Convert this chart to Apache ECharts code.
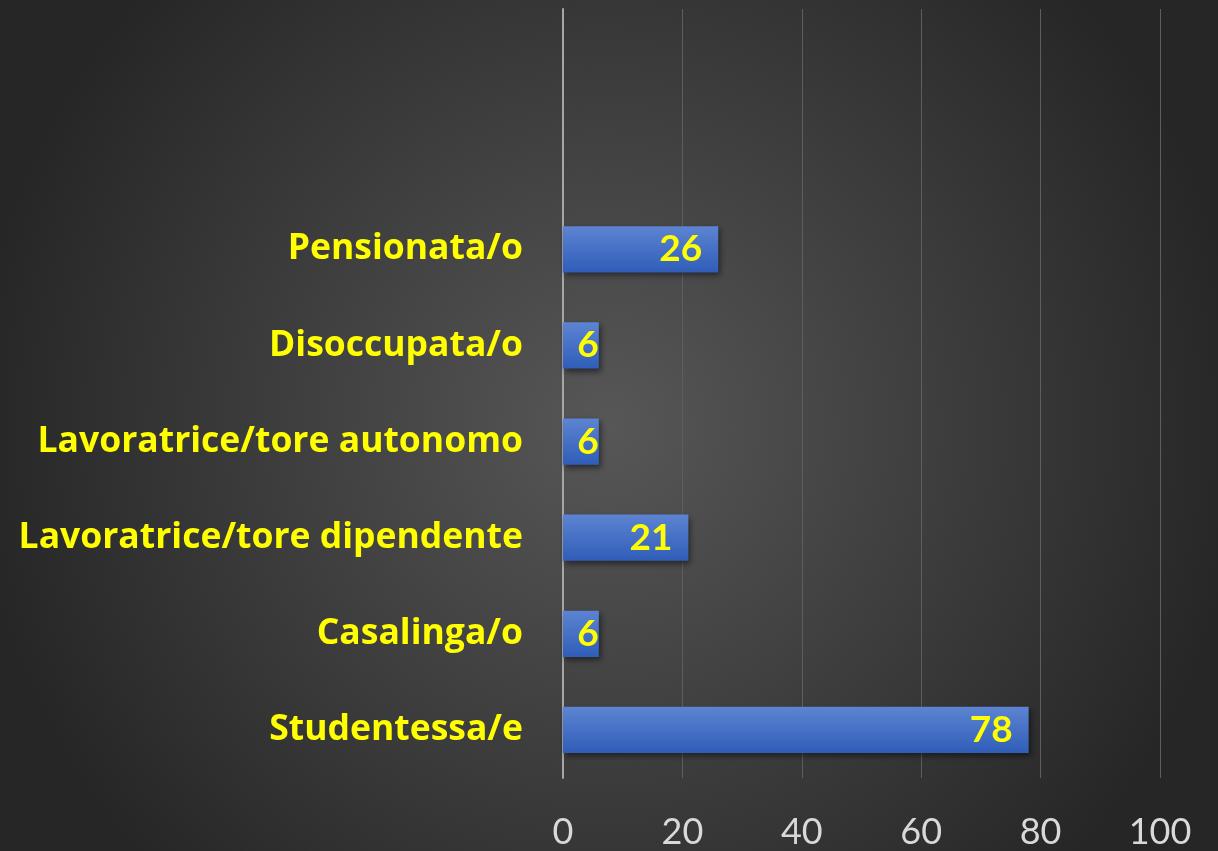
<!DOCTYPE html>
<html>
<head>
<meta charset="utf-8">
<script src="https://cdn.jsdelivr.net/npm/echarts@6/dist/echarts.min.js"></script>
<style>
  html, body { margin: 0; padding: 0; }
  #chart { width: 1218px; height: 851px; }
</style>
</head>
<body>
<div id="chart"></div>
<script>
  // categories bottom to top; the two top rows are empty in the original
  const categories = ['Studentessa/e', 'Casalinga/o', 'Lavoratrice/tore dipendente',
    'Lavoratrice/tore autonomo', 'Disoccupata/o', 'Pensionata/o', '', ' ']
  const values = [78, 6, 21, 6, 6, 26, null, null]
  const xTicks = [0, 20, 40, 60, 80, 100]

  const font = 'Lato, "Open Sans", sans-serif'

  // short bars get their label flush with the bar end
  const barData = values.map(v => (v !== null && v < 10) ? {value: v, label: {distance: 0}} : v)

  echarts.init(document.getElementById('chart')).setOption({
    backgroundColor: {
      type: 'radial', x: 0.5, y: 0.5, r: 0.75,
      colorStops: [
        {offset: 0, color: '#575757'},
        {offset: 1, color: '#262626'}
      ]
    },
    grid: {left: 563, right: 58, top: 9, bottom: 73, containLabel: false},
    xAxis: {
      type: 'value',
      min: xTicks[0],
      max: xTicks[xTicks.length - 1],
      interval: 20,
      axisLine: {show: false},
      axisTick: {show: false},
      splitLine: {lineStyle: {color: '#5e5e5e', width: 1}},
      axisLabel: {color: '#d9d9d9', fontSize: 36, fontFamily: font, margin: 36}
    },
    yAxis: {
      type: 'category',
      data: categories,
      axisLine: {lineStyle: {color: '#a6a6a6', width: 2}},
      axisTick: {show: false},
      axisLabel: {
        color: '#ffff00', fontSize: 35.5, fontWeight: 'bold',
        fontFamily: '"Open Sans", sans-serif', margin: 40, padding: [6, 0, 0, 0]
      }
    },
    series: [{
      type: 'bar',
      data: barData,
      barCategoryGap: '52%',
      itemStyle: {
        color: {
          type: 'linear', x: 0, y: 0, x2: 0, y2: 1,
          colorStops: [
            {offset: 0, color: '#5d84d2'},
            {offset: 1, color: '#2f5db8'}
          ]
        },
        shadowColor: 'rgba(0,0,0,0.5)',
        shadowBlur: 6,
        shadowOffsetX: 2,
        shadowOffsetY: 3
      },
      label: {
        show: true,
        position: 'insideRight',
        distance: 16,
        color: '#ffff00',
        fontSize: 37,
        fontWeight: 'bold',
        fontFamily: font
      }
    }]
  })
</script>
</body>
</html>
